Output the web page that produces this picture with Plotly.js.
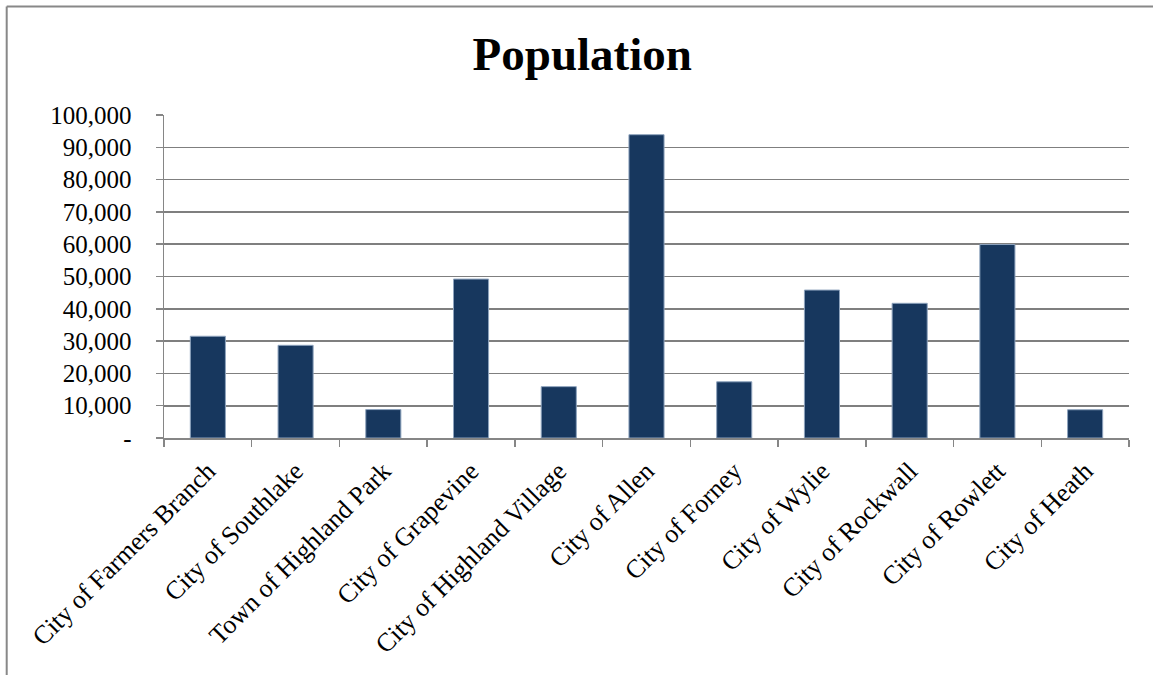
<!DOCTYPE html>
<html>
<head>
<meta charset="utf-8">
<script src="https://cdn.plot.ly/plotly-3.0.1.min.js"></script>
<style>
  html, body { margin: 0; padding: 0; background: #fff; }
  #chart { width: 1153px; height: 675px; }
</style>
</head>
<body>
<div id="chart"></div>
<script>
const categories = [
  "City of Farmers Branch", "City of Southlake", "Town of Highland Park",
  "City of Grapevine", "City of Highland Village", "City of Allen",
  "City of Forney", "City of Wylie", "City of Rockwall", "City of Rowlett",
  "City of Heath"
];
const population = [31500, 28700, 8800, 49200, 15900, 93900, 17400, 45800, 41700, 59900, 8750];
const yTickVals = [0, 10000, 20000, 30000, 40000, 50000, 60000, 70000, 80000, 90000, 100000];
const yTickText = ["-", "10,000", "20,000", "30,000", "40,000", "50,000", "60,000", "70,000", "80,000", "90,000", "100,000"];

const serif = "Liberation Serif, Times New Roman, serif";

const trace = {
  type: "bar",
  x: categories,
  y: population,
  marker: { color: "#17375E", line: { color: "#8EA3BD", width: 1 } },
  hoverinfo: "x+y"
};

const layout = {
  width: 1153,
  height: 675,
  margin: { l: 164, r: 24, t: 115, b: 237, pad: 0 },
  paper_bgcolor: "#ffffff",
  plot_bgcolor: "#ffffff",
  bargap: 0.6,
  showlegend: false,
  font: { family: serif, color: "#000000", size: 22 },
  title: {
    text: "<b>Population</b>",
    font: { family: serif, size: 47, color: "#000000" },
    x: 0.505, xanchor: "center", xref: "container",
    y: 0.945, yanchor: "top", yref: "container"
  },
  xaxis: {
    type: "category",
    tickangle: -45,
    ticks: "outside",
    ticklen: 7,
    tickcolor: "#868686",
    tickwidth: 1.5,
    tickson: "boundaries",
    showline: true,
    linecolor: "#868686",
    linewidth: 1.5,
    showgrid: false,
    ticklabelstandoff: 6,
    tickfont: { family: serif, size: 26, color: "#000000" }
  },
  yaxis: {
    range: [0, 100000],
    tickvals: yTickVals,
    ticktext: yTickText,
    ticks: "outside",
    ticklen: 7,
    tickcolor: "#868686",
    tickwidth: 1.5,
    showline: true,
    linecolor: "#868686",
    linewidth: 1.5,
    showgrid: true,
    gridcolor: "#7f7f7f",
    gridwidth: 1.6,
    zeroline: false,
    ticklabelstandoff: 19,
    tickfont: { family: serif, size: 25, color: "#000000" }
  },
  shapes: [
    { type: "line", xref: "paper", yref: "paper", x0: -0.163, x1: -0.163, y0: -0.8, y1: 1.336,
      line: { color: "#888888", width: 2 } },
    { type: "line", xref: "paper", yref: "paper", x0: -0.163, x1: 1.1, y0: 1.336, y1: 1.336,
      line: { color: "#888888", width: 2 } }
  ]
};

Plotly.newPlot("chart", [trace], layout, { displayModeBar: false, staticPlot: true });
</script>
</body>
</html>
